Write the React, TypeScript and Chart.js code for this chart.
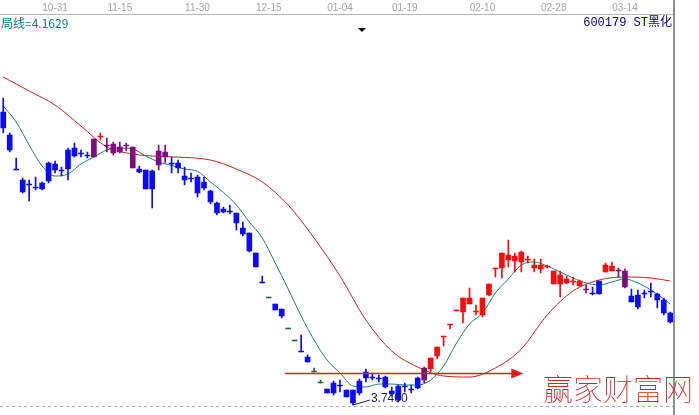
import { useEffect, useRef } from "react";
import { Chart, registerables } from "chart.js";

Chart.register(...registerables);

// ---- candle data (price) ----
const open = [
  5.205, 5.09, 4.915, 4.865, 4.845, 4.83, 4.85, 4.95, 4.945, 4.915,
  5.015, 5.025, 5.0, 4.99, 4.98, 5.08, 5.035, 5.045, 5.03, 5.04,
  5.03, 4.92, 4.915, 4.91, 4.94, 5.005, 4.95, 4.95, 4.885, 4.875,
  4.88, 4.855, 4.81, 4.75, 4.72, 4.71, 4.7, 4.625, 4.6, 4.5,
  4.35, 4.275, 4.245, 4.22, 4.12, 4.06, 4.005, 3.98, 3.905, 3.85,
  3.82, 3.85, 3.84, 3.815, 3.815, 3.86, 3.905, 3.88, 3.875, 3.88,
  3.81, 3.835, 3.835, 3.82, 3.875, 3.865, 3.92, 3.985, 4.08, 4.14,
  4.21, 4.205, 4.245, 4.205, 4.19, 4.29, 4.42, 4.425, 4.465, 4.46,
  4.455, 4.465, 4.425, 4.42, 4.43, 4.345, 4.345, 4.35, 4.355, 4.335,
  4.315, 4.3, 4.36, 4.405, 4.41, 4.41, 4.41, 4.285, 4.29, 4.3,
  4.31, 4.295, 4.265, 4.2,
];
const close = [
  5.125, 5.015, 4.915, 4.805, 4.84, 4.825, 4.82, 4.86, 4.915, 4.91,
  4.92, 4.985, 4.995, 4.985, 5.07, 5.085, 5.04, 5.0, 5.005, 5.035,
  4.925, 4.905, 4.82, 4.82, 5.01, 4.98, 4.945, 4.925, 4.865, 4.87,
  4.8, 4.825, 4.755, 4.7, 4.705, 4.705, 4.65, 4.595, 4.51, 4.43,
  4.35, 4.275, 4.215, 4.185, 4.12, 4.06, 4.005, 3.955, 3.905, 3.85,
  3.8, 3.8, 3.835, 3.78, 3.75, 3.8, 3.875, 3.875, 3.87, 3.83,
  3.795, 3.765, 3.83, 3.815, 3.825, 3.925, 3.975, 4.03, 4.08, 4.14,
  4.21, 4.275, 4.275, 4.21, 4.275, 4.345, 4.42, 4.5, 4.49, 4.485,
  4.505, 4.47, 4.44, 4.44, 4.435, 4.41, 4.39, 4.37, 4.36, 4.36,
  4.32, 4.295, 4.295, 4.44, 4.435, 4.415, 4.33, 4.255, 4.23, 4.295,
  4.305, 4.265, 4.2, 4.155,
];
const high = [
  5.275, 5.1, 4.975, 4.875, 4.865, 4.88, 4.855, 4.955, 4.96, 4.93,
  5.025, 5.05, 5.015, 5.005, 5.07, 5.1, 5.075, 5.055, 5.055, 5.05,
  5.03, 4.935, 4.915, 4.915, 5.04, 5.04, 4.98, 4.965, 4.93, 4.9,
  4.89, 4.88, 4.815, 4.755, 4.73, 4.74, 4.7, 4.655, 4.6, 4.5,
  4.385, 4.28, 4.245, 4.22, 4.12, 4.06, 4.09, 3.99, 3.925, 3.865,
  3.82, 3.86, 3.865, 3.815, 3.815, 3.87, 3.92, 3.9, 3.89, 3.885,
  3.83, 3.84, 3.85, 3.84, 3.88, 3.93, 3.975, 4.03, 4.08, 4.14,
  4.21, 4.275, 4.325, 4.24, 4.275, 4.345, 4.42, 4.5, 4.565, 4.5,
  4.51, 4.485, 4.47, 4.47, 4.44, 4.41, 4.41, 4.385, 4.38, 4.365,
  4.34, 4.33, 4.36, 4.45, 4.455, 4.425, 4.42, 4.32, 4.315, 4.315,
  4.35, 4.3, 4.275, 4.205,
];
const low = [
  5.1, 5.005, 4.915, 4.8, 4.76, 4.815, 4.815, 4.85, 4.9, 4.885,
  4.865, 4.98, 4.98, 4.975, 4.98, 5.065, 5.005, 4.99, 5.0, 5.01,
  4.925, 4.9, 4.82, 4.725, 4.915, 4.95, 4.9, 4.9, 4.84, 4.855,
  4.78, 4.815, 4.745, 4.69, 4.7, 4.695, 4.615, 4.585, 4.505, 4.43,
  4.35, 4.275, 4.215, 4.175, 4.12, 4.06, 4.005, 3.955, 3.905, 3.85,
  3.8, 3.79, 3.805, 3.78, 3.74, 3.79, 3.855, 3.865, 3.855, 3.825,
  3.785, 3.755, 3.805, 3.8, 3.82, 3.85, 3.905, 3.97, 4.035, 4.12,
  4.21, 4.15, 4.245, 4.19, 4.18, 4.285, 4.38, 4.375, 4.43, 4.405,
  4.405, 4.45, 4.405, 4.4, 4.425, 4.345, 4.28, 4.345, 4.34, 4.335,
  4.3, 4.29, 4.295, 4.405, 4.41, 4.38, 4.325, 4.255, 4.22, 4.275,
  4.28, 4.225, 4.19, 4.15,
];

// days whose candle touches the long moving average (drawn purple)
const maTouchDays = [14, 16, 17, 18, 19, 20, 24, 25, 65, 90, 95, 96];
// unchanged days (open = close = previous level), drawn dark green
const flatDays = [41, 44, 45, 48, 49];

// ---- moving averages (sparse samples) ----
const maLongIdx = [0, 4, 8, 12, 16, 20, 24, 28, 32, 36, 40, 44, 48, 52, 56, 60, 64, 68, 72, 76, 80, 84, 88, 92, 96, 100, 103];
const maLongVal = [5.38, 5.31, 5.24, 5.135, 5.03, 4.995, 4.983, 4.978, 4.965, 4.92, 4.855, 4.74, 4.575, 4.385, 4.165, 4.01, 3.93, 3.885, 3.88, 3.925, 4.02, 4.19, 4.31, 4.365, 4.38, 4.375, 4.36];
const maShortIdx = [0, 2, 4, 6, 8, 10, 12, 14, 16, 18, 20, 22, 24, 26, 28, 30, 32, 34, 36, 38, 40, 42, 44, 46, 48, 50, 52, 54, 56, 58, 60, 62, 64, 66, 68, 70, 72, 74, 76, 78, 80, 82, 84, 86, 88, 90, 92, 94, 96, 98, 100, 102, 103];
const maShortVal = [5.235, 5.155, 5.04, 4.935, 4.885, 4.895, 4.945, 4.98, 5.015, 5.025, 5.02, 4.985, 4.955, 4.938, 4.92, 4.908, 4.855, 4.803, 4.74, 4.655, 4.575, 4.45, 4.32, 4.185, 4.065, 3.965, 3.9, 3.835, 3.83, 3.845, 3.845, 3.84, 3.84, 3.865, 3.935, 4.05, 4.145, 4.2, 4.3, 4.37, 4.44, 4.455, 4.435, 4.405, 4.375, 4.35, 4.34, 4.355, 4.37, 4.35, 4.315, 4.27, 4.245];

// ---- top axis date labels ----
const tickLabels = ["10-31", "11-15", "11-30", "12-15", "01-04", "01-19", "02-10", "02-28", "03-14"];
const tickIdx = [8, 18, 30, 41, 52, 62, 74, 85, 96];

// support line with arrow (price level and day span)
const arrowLevel = 3.9;
const arrowFrom = 43.5;
const arrowTo = 80.3;

const headerLeft = "局线=4.1629";
const headerRight = "600179 ST黑化";
const watermark = "赢家财富网";

const RED = "#ff0a0a";
const BLUE = "#0a0aff";
const PURPLE = "#800a80";
const GREEN = "#236a3a";

function candleColor(i: number): string {
  if (maTouchDays.includes(i)) return PURPLE;
  if (flatDays.includes(i)) return GREEN;
  if (close[i] > open[i]) return RED;
  if (close[i] < open[i]) return BLUE;
  const prev = i > 0 ? close[i - 1] : close[i];
  return close[i] >= prev ? RED : BLUE;
}

function sparse(idx: number[], val: number[], n: number) {
  const arr: (number | null)[] = new Array(n).fill(null);
  idx.forEach((k, j) => (arr[k] = val[j]));
  return arr;
}

const overlay = {
  id: "overlay",
  afterDraw(chart: any) {
    const { ctx } = chart;
    const x = chart.scales.x;
    const y = chart.scales.y;
    ctx.save();

    // top axis line and date labels
    ctx.strokeStyle = "#b8b8b8";
    ctx.lineWidth = 1;
    ctx.beginPath();
    ctx.moveTo(0, 14.5);
    ctx.lineTo(674, 14.5);
    ctx.stroke();
    ctx.fillStyle = "#a4a4a4";
    ctx.font = '10px "Liberation Sans", sans-serif';
    ctx.textAlign = "center";
    ctx.textBaseline = "middle";
    tickIdx.forEach((k, j) => ctx.fillText(tickLabels[j], x.getPixelForValue(k), 8));

    // bottom dashed line
    ctx.strokeStyle = "#a8a8a8";
    ctx.setLineDash([3, 3]);
    ctx.beginPath();
    ctx.moveTo(0, 406.5);
    ctx.lineTo(674, 406.5);
    ctx.stroke();
    ctx.setLineDash([]);

    // right border
    ctx.strokeStyle = "#909090";
    ctx.lineWidth = 2;
    ctx.beginPath();
    ctx.moveTo(674, 0);
    ctx.lineTo(674, 415);
    ctx.stroke();

    // header texts
    ctx.textBaseline = "middle";
    ctx.textAlign = "left";
    ctx.fillStyle = "#0e7f7f";
    ctx.font = '12px "Noto Sans CJK SC", sans-serif';
    ctx.fillText(headerLeft, 1, 23);
    ctx.textAlign = "right";
    ctx.fillStyle = "#000080";
    ctx.font = '12px "Liberation Mono", "Noto Sans CJK SC", monospace';
    ctx.fillText(headerRight, 672, 23);

    // small marker triangle
    ctx.fillStyle = "#000";
    ctx.beginPath();
    ctx.moveTo(358, 28);
    ctx.lineTo(366, 28);
    ctx.lineTo(362, 32);
    ctx.closePath();
    ctx.fill();

    // support line + arrow
    const ay = Math.round(y.getPixelForValue(arrowLevel)) + 0.5;
    const ax0 = x.getPixelForValue(arrowFrom);
    const ax1 = x.getPixelForValue(arrowTo);
    ctx.strokeStyle = "#e81818";
    ctx.fillStyle = "#e81818";
    ctx.lineWidth = 1.5;
    ctx.beginPath();
    ctx.moveTo(ax0, ay);
    ctx.lineTo(ax1 - 10, ay);
    ctx.stroke();
    ctx.beginPath();
    ctx.moveTo(ax1 - 12, ay - 5);
    ctx.lineTo(ax1, ay);
    ctx.lineTo(ax1 - 12, ay + 5);
    ctx.closePath();
    ctx.fill();

    // lowest price annotation
    let mi = 0;
    low.forEach((v, i) => {
      if (v < low[mi]) mi = i;
    });
    const px = x.getPixelForValue(mi);
    const py = y.getPixelForValue(low[mi]);
    ctx.strokeStyle = "#1c1c4c";
    ctx.lineWidth = 1;
    ctx.beginPath();
    ctx.moveTo(px, py);
    ctx.lineTo(px + 17, py - 5);
    ctx.stroke();
    ctx.fillStyle = "#1c1c4c";
    ctx.textAlign = "left";
    ctx.font = '12px "Liberation Sans", sans-serif';
    ctx.fillText(low[mi].toFixed(4), px + 18, py - 6);

    // watermark
    ctx.fillStyle = "#d42424";
    ctx.font = '100 30px "Noto Sans CJK SC", sans-serif';
    ctx.textAlign = "left";
    ctx.fillText(watermark, 543, 389);

    ctx.restore();
  },
};

export default function App() {
  const ref = useRef<HTMLCanvasElement | null>(null);

  useEffect(() => {
    if (!ref.current) return;
    const n = open.length;
    const labels = open.map((_, i) => String(i));
    const colors = open.map((_, i) => candleColor(i));
    const chart = new Chart(ref.current, {
      type: "bar",
      data: {
        labels,
        datasets: [
          {
            type: "bar",
            data: open.map((o, i) => [o, close[i]]) as any,
            backgroundColor: colors,
            borderWidth: 0,
            barThickness: 5,
            minBarLength: 1,
            grouped: false,
            order: 1,
          } as any,
          {
            type: "bar",
            data: low.map((l, i) => [l, high[i]]) as any,
            backgroundColor: colors,
            borderWidth: 0,
            barThickness: 1,
            minBarLength: 1,
            grouped: false,
            order: 2,
          } as any,
          {
            type: "line",
            data: sparse(maLongIdx, maLongVal, n),
            borderColor: "#cc1f1f",
            borderWidth: 1,
            pointRadius: 0,
            spanGaps: true,
            cubicInterpolationMode: "monotone",
            order: 3,
          } as any,
          {
            type: "line",
            data: sparse(maShortIdx, maShortVal, n),
            borderColor: "#178080",
            borderWidth: 1,
            pointRadius: 0,
            spanGaps: true,
            cubicInterpolationMode: "monotone",
            order: 3,
          } as any,
        ],
      },
      options: {
        animation: false,
        responsive: true,
        maintainAspectRatio: false,
        events: [],
        layout: { padding: { left: 0, top: 0, bottom: 0, right: 25.5 } },
        plugins: { legend: { display: false }, tooltip: { enabled: false } },
        scales: {
          x: { display: false, offset: true },
          y: { display: false, min: 3.69, max: 5.765 },
        },
      },
      plugins: [overlay],
    });
    return () => chart.destroy();
  }, []);

  return (
    <div style={{ position: "fixed", left: 0, top: 0, width: 699, height: 415, background: "#fff" }}>
      <canvas ref={ref} />
    </div>
  );
}
